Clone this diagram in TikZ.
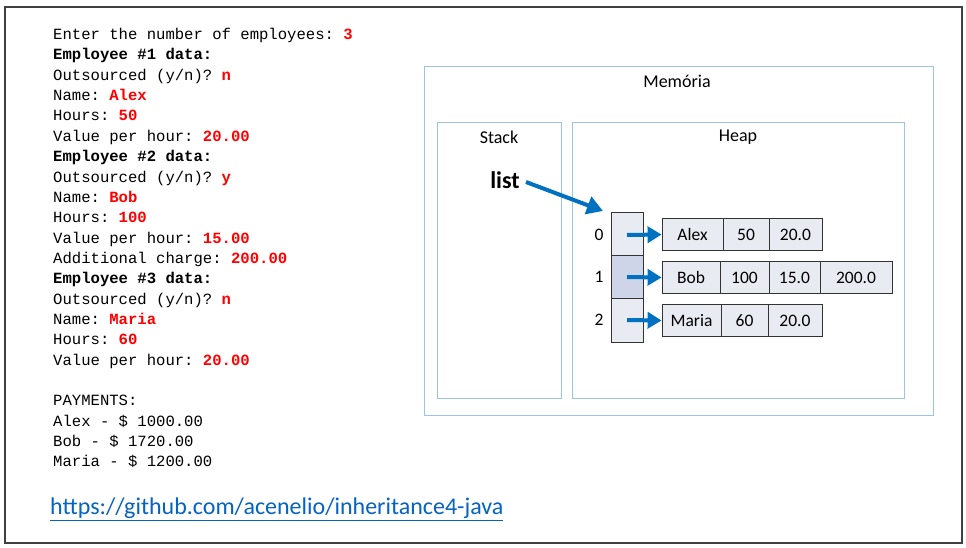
\documentclass[tikz,border=0pt]{standalone}
\usepackage{fontspec}
\setmainfont{Carlito}
\setmonofont{Liberation Mono}
\usetikzlibrary{arrows.meta}
\definecolor{frameblue}{HTML}{9DC3E6}
\definecolor{cellfill}{HTML}{E9EBF3}
\definecolor{cellsel}{HTML}{CFD5E8}
\definecolor{arrowblue}{HTML}{0070C0}
\definecolor{linkblue}{HTML}{0563C1}
\definecolor{outred}{HTML}{FF0000}
\tikzset{
  x=1pt, y=-1pt,
  region/.style={draw=frameblue, line width=1pt},
  cell/.style={draw=black!80, fill=cellfill, line width=0.8pt},
  field/.style={cell, minimum height=32pt, inner sep=0pt, font=\fontsize{17.5}{17.5}\selectfont},
  console/.style={font=\ttfamily\fontsize{15.6}{20.3}\selectfont, anchor=west, inner sep=0pt},
  ptr/.style={draw=arrowblue, line width=4pt, -{Triangle[length=14pt, width=16pt]}},
  idx/.style={font=\fontsize{17.5}{17.5}\selectfont, inner sep=0pt},
  lbl/.style={font=\fontsize{18}{18}\selectfont, inner sep=0pt}
}
\newcommand{\inp}[1]{\textcolor{outred}{\bfseries #1}}
\begin{document}
\begin{tikzpicture}
\useasboundingbox (0,0) rectangle (966,547);
\fill[white] (0,0) rectangle (966,547);
% outer frame
\draw[black!75, line width=2pt] (5,7) rectangle (962,543);

% console transcript
\foreach \t [count=\i from 0] in {
  {Enter the number of employees: \inp{3}},
  {\bfseries Employee \#1 data:},
  {Outsourced (y/n)? \inp{n}},
  {Name: \inp{Alex}},
  {Hours: \inp{50}},
  {Value per hour: \inp{20.00}},
  {\bfseries Employee \#2 data:},
  {Outsourced (y/n)? \inp{y}},
  {Name: \inp{Bob}},
  {Hours: \inp{100}},
  {Value per hour: \inp{15.00}},
  {Additional charge: \inp{200.00}},
  {\bfseries Employee \#3 data:},
  {Outsourced (y/n)? \inp{n}},
  {Name: \inp{Maria}},
  {Hours: \inp{60}},
  {Value per hour: \inp{20.00}},
  {},
  {PAYMENTS:},
  {Alex - \$ 1000.00},
  {Bob - \$ 1720.00},
  {Maria - \$ 1200.00}}
  \node[console] (line\i) at (53,{35.5+20.35*\i}) {\strut\t};

% repository link
\node[anchor=west, inner sep=0pt, text=linkblue, font=\fontsize{24}{24}\selectfont] (link) at (50,509)
  {\underline{https://github.com/acenelio/inheritance4-java}};

% memory regions
\draw[region] (424,66) rectangle (933,415);
\node[lbl] (mem) at (677,81) {Memória};
\draw[region] (437,122) rectangle (561,398);
\node[lbl] (stack) at (499,137) {Stack};
\draw[region] (572,122) rectangle (904,398);
\node[lbl] (heap) at (738,137.5) {Heap};

% array of references
\draw[cell] (611,212) rectangle (643,255);
\draw[cell, fill=cellsel] (611,255) rectangle (643,298);
\draw[cell] (611,298) rectangle (643,342);
\node[idx] (i0) at (599,235) {0};
\node[idx] (i1) at (599,277) {1};
\node[idx] (i2) at (599,320) {2};
\coordinate (a0) at (627,235);
\coordinate (a1) at (627,277);
\coordinate (a2) at (627,320);

% employee objects
\node[field, minimum width=61pt] (alexn) at (692.5,234.5) {Alex};
\node[field, minimum width=46pt] (alexh) at (746,234.5) {50};
\node[field, minimum width=53pt] (alexv) at (795.5,234.5) {20.0};

\node[field, minimum width=58pt] (bobn) at (691,277.5) {Bob};
\node[field, minimum width=49pt] (bobh) at (744.5,277.5) {100};
\node[field, minimum width=51pt] (bobv) at (794.5,277.5) {15.0};
\node[field, minimum width=72pt] (boba) at (856,277.5) {200.0};

\node[field, minimum width=59pt] (marian) at (691.5,320.5) {Maria};
\node[field, minimum width=47pt] (mariah) at (744.5,320.5) {60};
\node[field, minimum width=54pt] (mariav) at (795,320.5) {20.0};

% references
\draw[ptr] (a0) -- (alexn.west);
\draw[ptr] (a1) -- (bobn.west);
\draw[ptr] (a2) -- (marian.west);

% stack variable
\node[font=\bfseries\fontsize{24}{24}\selectfont, inner sep=0pt] (list) at (505,180) {list};
\coordinate (arr) at (603,211);
\draw[ptr, -{Triangle[length=16pt, width=18pt]}] (526,182) -- (arr);
\end{tikzpicture}
\end{document}
